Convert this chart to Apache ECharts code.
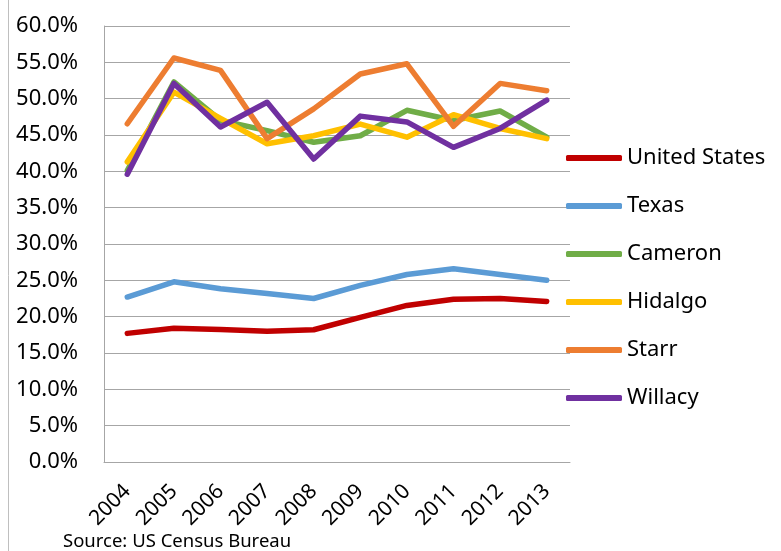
<!DOCTYPE html>
<html>
<head>
<meta charset="utf-8">
<script src="https://cdn.jsdelivr.net/npm/echarts@6/dist/echarts.min.js"></script>
<style>
  html, body { margin: 0; padding: 0; background: #fff; }
  #main { width: 781px; height: 551px; }
</style>
</head>
<body>
<div id="main"></div>
<script>
// years on the x axis
var years = ['2004', '2005', '2006', '2007', '2008', '2009', '2010', '2011', '2012', '2013'];

// share in percent
var unitedStates = [17.7, 18.4, 18.25, 18.0, 18.2, 19.9, 21.55, 22.4, 22.5, 22.1];
var texas = [22.7, 24.8, 23.85, 23.2, 22.5, 24.3, 25.8, 26.6, 25.8, 25.0];
var cameron = [40.1, 52.3, 47.0, 45.6, 44.0, 44.9, 48.4, 47.0, 48.3, 44.7];
var hidalgo = [41.3, 50.9, 47.3, 43.8, 44.9, 46.5, 44.7, 47.8, 45.9, 44.5];
var starr = [46.55, 55.6, 53.9, 44.5, 48.6, 53.4, 54.8, 46.2, 52.1, 51.1];
var willacy = [39.6, 52.1, 46.1, 49.5, 41.7, 47.6, 46.8, 43.3, 45.9, 49.8];

var seriesNames = ['United States', 'Texas', 'Cameron', 'Hidalgo', 'Starr', 'Willacy'];
var seriesData = [unitedStates, texas, cameron, hidalgo, starr, willacy];
var colors = ['#c00000', '#5b9bd5', '#70ad47', '#ffc000', '#ed7d31', '#7030a0'];

var font = '"Noto Sans", sans-serif';
var chart = echarts.init(document.getElementById('main'));

var series = seriesNames.map(function (name, i) {
  return {
    name: name,
    type: 'line',
    data: seriesData[i],
    symbol: 'none',
    lineStyle: { width: 5.5, color: colors[i], cap: 'round', join: 'round' },
    itemStyle: { color: colors[i] }
  };
});

var option = {
  animation: false,
  color: colors,
  title: {
    text: 'Source: US Census Bureau',
    left: 63,
    top: 532,
    padding: 0,
    textStyle: { fontFamily: font, fontSize: 18.5, fontWeight: 'normal', color: '#000' }
  },
  grid: { left: 104, right: 211, top: 26, bottom: 89, containLabel: false },
  legend: {
    orient: 'vertical',
    left: 566,
    top: 145,
    padding: 0,
    itemWidth: 56,
    itemHeight: 6,
    itemGap: 22,
    icon: 'roundRect',
    data: seriesNames,
    textStyle: { fontFamily: font, fontSize: 22, color: '#000', lineHeight: 26, padding: [0, 0, 0, 0] }
  },
  xAxis: {
    type: 'category',
    data: years,
    boundaryGap: true,
    axisLine: { show: true, lineStyle: { color: '#a6a6a6', width: 1 } },
    axisTick: { show: false },
    axisLabel: {
      rotate: 45,
      margin: 26,
      interval: 0,
      fontFamily: font,
      fontSize: 21,
      color: '#000'
    }
  },
  yAxis: {
    type: 'value',
    min: 0,
    max: 60,
    interval: 5,
    axisLine: { show: true, lineStyle: { color: '#a6a6a6', width: 1 } },
    axisTick: { show: false },
    splitLine: { lineStyle: { color: '#a6a6a6', width: 1 } },
    axisLabel: {
      margin: 26,
      fontFamily: font,
      fontSize: 22,
      color: '#000',
      formatter: function (v) { return v.toFixed(1) + '%'; }
    }
  },
  graphic: [{
    type: 'line',
    shape: { x1: 8.5, y1: 0, x2: 8.5, y2: 551 },
    style: { stroke: '#bfbfbf', lineWidth: 1 }
  }],
  series: series
};

chart.setOption(option);
</script>
</body>
</html>
